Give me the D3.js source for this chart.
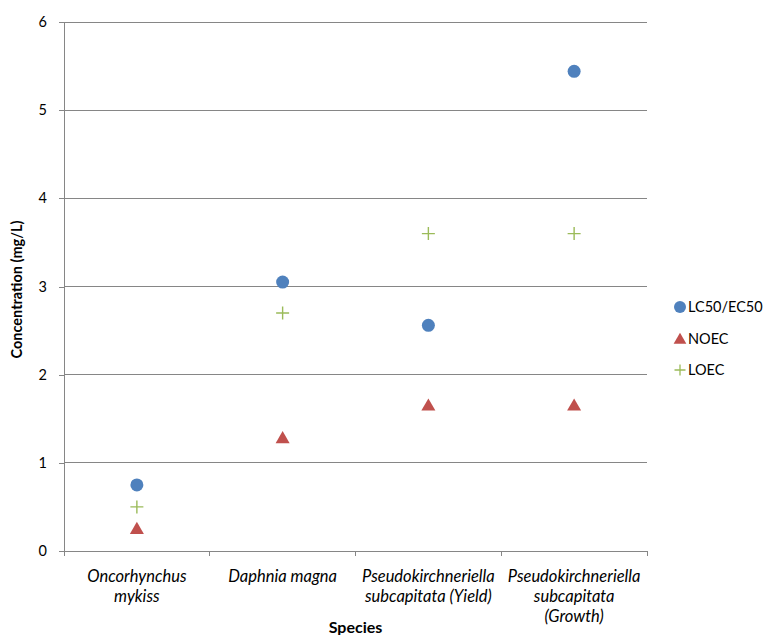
<!DOCTYPE html>
<html><head><meta charset="utf-8">
<script src="https://cdn.jsdelivr.net/npm/d3@7"></script>
<style>body{margin:0;background:#fff}svg{display:block}text{font-family:Lato,"Open Sans",sans-serif;fill:#000}</style>
</head><body>
<svg id="c" width="766" height="635"></svg>
<script>
const categories = [["Oncorhynchus","mykiss"],["Daphnia magna"],["Pseudokirchneriella","subcapitata (Yield)"],["Pseudokirchneriella","subcapitata","(Growth)"]];
const lc50 = [0.75, 3.05, 2.56, 5.44];
const noec = [0.25, 1.28, 1.65, 1.65];
const loec = [0.50, 2.70, 3.60, 3.60];
const yTicks = [0,1,2,3,4,5,6];
const seriesNames = ["LC50/EC50","NOEC","LOEC"];

const svg = d3.select("#c");
const L=64, R=647, T=22, B=551;
const x = d3.scaleBand().domain(d3.range(categories.length)).range([L,R]);
const y = d3.scaleLinear().domain([0,6]).range([B,T]);
const grid="#868686";

svg.append("g").selectAll("line").data(yTicks.filter(d=>d>0)).join("line")
  .attr("x1",L).attr("x2",R).attr("y1",d=>y(d)).attr("y2",d=>y(d))
  .attr("stroke",grid).attr("stroke-width",1).attr("shape-rendering","crispEdges");

const ya = svg.append("g").attr("transform",`translate(${L},0)`)
  .call(d3.axisLeft(y).tickValues(yTicks).tickSize(5).tickPadding(12).tickFormat(d3.format("d")));
ya.select(".domain").attr("stroke",grid).attr("shape-rendering","crispEdges");
ya.selectAll(".tick line").attr("stroke",grid).attr("shape-rendering","crispEdges");
ya.selectAll("text").attr("font-size",14.5).style("font-family","Lato,sans-serif");

svg.append("line").attr("x1",L).attr("x2",R).attr("y1",B).attr("y2",B).attr("stroke",grid).attr("shape-rendering","crispEdges");
const bounds = d3.range(categories.length+1).map(i=> i<categories.length ? x(i) : x(i-1)+x.bandwidth());
svg.append("g").selectAll("line").data(bounds).join("line")
  .attr("x1",d=>d).attr("x2",d=>d).attr("y1",B).attr("y2",B+5)
  .attr("stroke",grid).attr("shape-rendering","crispEdges");

const cl = svg.append("g").selectAll("text").data(categories).join("text")
  .attr("x",(d,i)=>x(i)+x.bandwidth()/2).attr("y",582)
  .attr("text-anchor","middle").attr("font-size",16.5).attr("font-style","italic");
cl.selectAll("tspan").data(d=>d).join("tspan")
  .attr("x",function(){return this.parentNode.getAttribute("x");})
  .attr("dy",(d,i)=>i===0?0:20).text(d=>d);

svg.append("text").attr("x",(L+R)/2).attr("y",633).attr("text-anchor","middle")
  .attr("font-size",16).attr("font-weight","bold").text("Species");
svg.append("text").attr("transform",`translate(22,${(T+B)/2+3}) rotate(-90)`).attr("text-anchor","middle")
  .attr("font-size",14.5).attr("font-weight","bold").text("Concentration (mg/L)");

const cx = i=>x(i)+x.bandwidth()/2;
const blue="#4F81BD", red="#C0504D", green="#9BBB59";
const tri = d3.symbol().type(d3.symbolTriangle).size(85);
const plus = "M-6.5,0H6.5M0,-6.5V6.5";

svg.append("g").selectAll("circle").data(lc50).join("circle")
  .attr("cx",(d,i)=>cx(i)).attr("cy",d=>y(d)).attr("r",6.5).attr("fill",blue);
svg.append("g").selectAll("path").data(noec).join("path")
  .attr("transform",(d,i)=>`translate(${cx(i)},${y(d)+1})`).attr("d",tri).attr("fill",red);
svg.append("g").selectAll("path").data(loec).join("path")
  .attr("transform",(d,i)=>`translate(${cx(i)},${y(d)})`).attr("d",plus).attr("stroke",green).attr("stroke-width",1.4).attr("fill","none");

const lg = svg.append("g");
const ly = [307,339,370];
lg.append("circle").attr("cx",680).attr("cy",ly[0]).attr("r",6).attr("fill",blue);
lg.append("path").attr("transform",`translate(680,${ly[1]+1})`).attr("d",d3.symbol().type(d3.symbolTriangle).size(70)).attr("fill",red);
lg.append("path").attr("transform",`translate(680,${ly[2]})`).attr("d","M-5.5,0H5.5M0,-5.5V5.5").attr("stroke",green).attr("stroke-width",1.3);
lg.selectAll("text").data(seriesNames).join("text")
  .attr("x",688).attr("y",(d,i)=>ly[i]+5).attr("font-size",14.5).text(d=>d);
</script>
</body></html>
